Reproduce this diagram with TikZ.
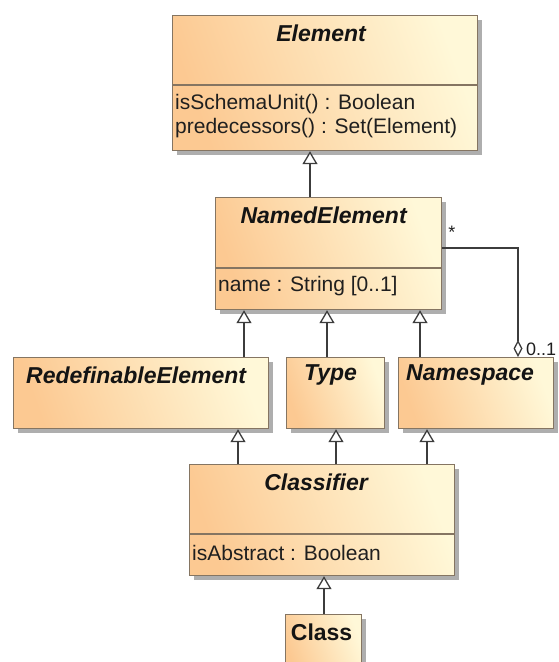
\documentclass[tikz,border=0pt]{standalone}
\usepackage{fontspec}
\setmainfont{Liberation Sans}
\usetikzlibrary{arrows.meta,shadows,calc}

\definecolor{peach}{HTML}{FCC992}
\definecolor{cream}{HTML}{FFF8D8}
\definecolor{edge}{HTML}{857562}
\definecolor{wire}{HTML}{3C3C3C}

\tikzset{
  umlbox/.style={draw=edge, line width=1.2pt, left color=peach, right color=cream,
    shading angle=110, anchor=north west, inner sep=0pt,
    drop shadow={shadow xshift=4pt, shadow yshift=-4pt, fill=black!45, opacity=.7}},
  title/.style={font=\fontsize{23}{25}\selectfont\bfseries\itshape, text=black!92, inner sep=0pt},
  ctitle/.style={font=\fontsize{23}{25}\selectfont\bfseries, text=black!92, inner sep=0pt},
  attr/.style={font=\fontsize{21}{24}\selectfont, anchor=west, inner sep=0pt, text=black!88},
  mult/.style={font=\fontsize{18}{20}\selectfont, inner sep=0pt, text=black!88},
  divider/.style={draw=edge, line width=1.2pt},
  gen/.style={draw=wire, line width=1.3pt,
    -{Triangle[fill=white, length=13pt, width=15pt]}},
  agg/.style={draw=wire, line width=1.3pt,
    -{Diamond[fill=white, length=17pt, width=9pt]}},
}

\begin{document}
\begin{tikzpicture}[x=1pt,y=-1pt]
  \useasboundingbox (0,0) rectangle (558,662);
  \fill[white] (0,0) rectangle (558,662);
  \clip (0,0) rectangle (558,662);

  % class boxes
  \node[umlbox, minimum width=305, minimum height=135] (element) at (172,15) {};
  \node[umlbox, minimum width=226, minimum height=112] (named) at (215,197) {};
  \node[umlbox, minimum width=255, minimum height=71] (redef) at (13,357) {};
  \node[umlbox, minimum width=98, minimum height=71] (type) at (286,357) {};
  \node[umlbox, minimum width=155, minimum height=71] (nspace) at (398,357) {};
  \node[umlbox, minimum width=265, minimum height=111] (classifier) at (189,464) {};
  \node[umlbox, minimum width=76, minimum height=60] (class) at (285,614) {};

  % compartment dividers
  \draw[divider] ($(element.north west)+(0,70)$) -- ($(element.north east)+(0,70)$);
  \draw[divider] ($(named.north west)+(0,71)$) -- ($(named.north east)+(0,71)$);
  \draw[divider] ($(classifier.north west)+(0,70)$) -- ($(classifier.north east)+(0,70)$);

  % names
  \node[title] (elementT) at ($(element.north)+(-4,18)$) {Element};
  \node[title] (namedT) at ($(named.north)+(-5,18)$) {NamedElement};
  \node[title] (redefT) at ($(redef.north)+(-5,18)$) {RedefinableElement};
  \node[title] (typeT) at ($(type.north)+(-5,18)$) {Type};
  \node[title] (nspaceT) at ($(nspace.north)+(-6,18)$) {Namespace};
  \node[title] (classifierT) at ($(classifier.north)+(-6,18)$) {Classifier};
  \node[ctitle] (classT) at ($(class.north)+(-2,18)$) {Class};

  % attributes and operations
  \node[attr] (elementA) at ($(element.north west)+(3,89)$) {isSchemaUnit() : Boolean};
  \node[attr] (elementB) at ($(element.north west)+(3,113)$) {predecessors() : Set(Element)};
  \node[attr] (namedA) at ($(named.north west)+(3,89)$) {name : String [0..1]};
  \node[attr] (classifierA) at ($(classifier.north west)+(3,89)$) {isAbstract : Boolean};

  % generalizations
  \draw[gen] ($(named.north west)+(95,0)$) -- ($(element.south west)+(138,0)$);
  \draw[gen] ($(redef.north west)+(231,0)$) -- ($(named.south west)+(29,0)$);
  \draw[gen] ($(type.north west)+(41,0)$) -- ($(named.south west)+(112,0)$);
  \draw[gen] ($(nspace.north west)+(22,0)$) -- ($(named.south west)+(205,0)$);
  \draw[gen] ($(classifier.north west)+(49,0)$) -- ($(redef.south west)+(225,0)$);
  \draw[gen] ($(classifier.north west)+(147,0)$) -- ($(type.south west)+(50,0)$);
  \draw[gen] ($(classifier.north west)+(238,0)$) -- ($(nspace.south west)+(29,0)$);
  \draw[gen] ($(class.north west)+(39,0)$) -- ($(classifier.south west)+(135,0)$);

  % aggregation between NamedElement and Namespace
  \draw[agg] ($(named.north east)+(0,51)$) -| ($(nspace.north west)+(120,0)$);
  \node[mult, anchor=south west] (many) at ($(named.north east)+(6,42)$) {*};
  \node[mult, anchor=west] (opt) at ($(nspace.north west)+(128,-8)$) {0..1};
\end{tikzpicture}
\end{document}
